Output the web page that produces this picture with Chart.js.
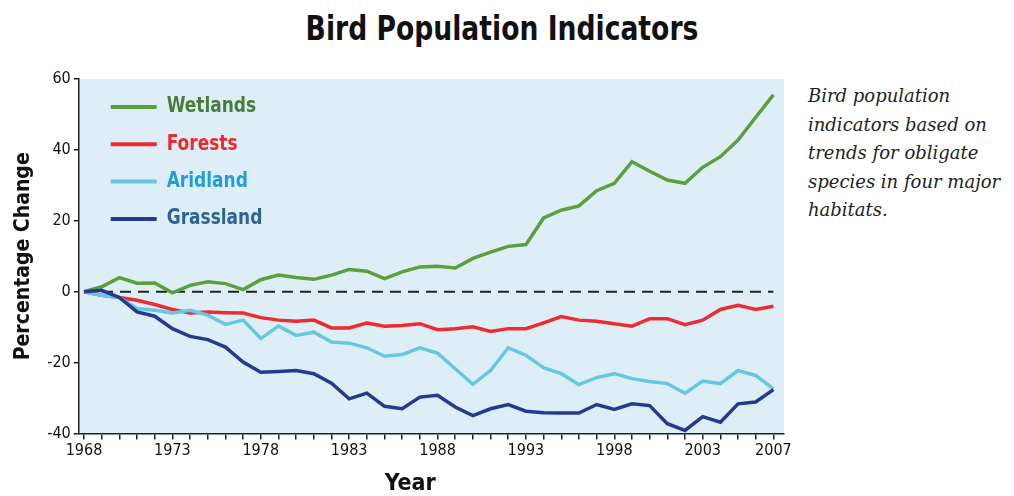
<!DOCTYPE html>
<html lang="en">
<head>
  <meta charset="UTF-8">
  <title>Bird Population Indicators</title>
  <script src="https://cdn.jsdelivr.net/npm/chart.js"></script>
  <style>
    body {
      margin: 0;
      width: 1014px;
      height: 496px;
      background: #fff;
      position: relative;
      overflow: hidden;
    }
    #title {
      position: absolute;
      left: 0;
      width: 1004px;
      top: 8px;
      text-align: center;
      font-family: 'Liberation Sans Narrow', 'DejaVu Sans Condensed', sans-serif;
      font-weight: bold;
      font-size: 34px;
      color: #111;
      transform: scaleX(0.87);
    }
    #wrap {
      position: absolute;
      left: 0;
      top: 0;
      width: 800px;
      height: 496px;
    }
    #note {
      position: absolute;
      left: 808px;
      top: 82px;
      width: 206px;
      font-family: 'DejaVu Serif', serif;
      font-style: italic;
      font-size: 18px;
      line-height: 28.5px;
      color: #222;
    }
  </style>
</head>
<body>
  <div id="title">Bird Population Indicators</div>
  <div id="wrap"><canvas id="birdChart"></canvas></div>
  <div id="note">Bird population indicators based on trends for obligate species in four major habitats.</div>
  <script>
    var years = [];
    for (var y = 1968; y <= 2007; y++) years.push(y);
    var labelYears = [1968, 1973, 1978, 1983, 1988, 1993, 1998, 2003, 2007];
    var yTicks = [-40, -20, 0, 20, 40, 60];

    var wetlands = [0, 1.4, 4, 2.4, 2.5, -0.3, 1.8, 2.8, 2.3, 0.6,
                    3.4, 4.7, 4, 3.5, 4.7, 6.3, 5.8, 3.7, 5.6, 7,
                    7.2, 6.7, 9.4, 11.2, 12.8, 13.3, 20.8, 23, 24.2, 28.5,
                    30.6, 36.7, 34, 31.5, 30.6, 35.1, 38.1, 42.8, 49.2, 55.5];
    var forests = [0, -1, -1.6, -2.4, -3.6, -5, -6, -5.7, -5.9, -6,
                   -7.3, -8, -8.3, -8, -10.2, -10.2, -8.8, -9.7, -9.5, -9,
                   -10.7, -10.4, -9.9, -11.2, -10.4, -10.4, -8.8, -7, -8, -8.3,
                   -9, -9.7, -7.6, -7.6, -9.3, -8, -5, -3.8, -5, -4.1];
    var aridland = [0, -1, -1.6, -4.7, -5.2, -6, -5.2, -6.6, -9.2, -8,
                    -13.2, -9.7, -12.3, -11.4, -14.2, -14.5, -15.8, -18.2, -17.7, -15.8,
                    -17.3, -21.7, -26.1, -22.2, -15.8, -17.9, -21.4, -23.1, -26.2, -24.2,
                    -23.1, -24.5, -25.3, -25.9, -28.6, -25.2, -25.9, -22.2, -23.6, -27.4];
    var grassland = [0, 0.4, -1.6, -5.7, -6.9, -10.4, -12.6, -13.5, -15.6, -19.8,
                     -22.7, -22.5, -22.2, -23.1, -25.8, -30.2, -28.6, -32.3, -33, -29.7,
                     -29.2, -32.5, -34.9, -33, -31.8, -33.7, -34.1, -34.2, -34.2, -31.8,
                     -33.2, -31.6, -32.1, -37.2, -39.1, -35.2, -36.8, -31.6, -31.1, -27.6];

    var seriesNames = ['Wetlands', 'Forests', 'Aridland', 'Grassland'];
    var seriesData = [wetlands, forests, aridland, grassland];
    var lineColors = ['#5f9e3d', '#ee2b30', '#66c8e0', '#27388f'];
    var textColors = ['#4a7b3c', '#ea2a30', '#1f9fd8', '#2c6496'];

    var narrow = "'Liberation Sans Narrow', 'DejaVu Sans Condensed', sans-serif";

    function toPoints(arr) {
      return arr.map(function (v, i) { return { x: years[i], y: v }; });
    }

    // plot background, dashed zero line, legend inside the plot, x title
    var decor = {
      id: 'decor',
      beforeDraw: function (chart) {
        var ctx = chart.ctx, a = chart.chartArea;
        ctx.save();
        ctx.fillStyle = '#deeef7';
        ctx.fillRect(a.left, a.top, a.right - a.left, a.bottom - a.top);
        ctx.restore();
      },
      beforeDatasetsDraw: function (chart) {
        var ctx = chart.ctx;
        var xs = chart.scales.x, ys = chart.scales.y;
        ctx.save();
        var y0 = ys.getPixelForValue(0);
        ctx.strokeStyle = '#222';
        ctx.lineWidth = 2;
        ctx.setLineDash([11, 7]);
        ctx.beginPath();
        ctx.moveTo(xs.getPixelForValue(years[0]), y0);
        ctx.lineTo(xs.getPixelForValue(years[years.length - 1]), y0);
        ctx.stroke();
        ctx.restore();
      },
      afterDatasetsDraw: function (chart) {
        var ctx = chart.ctx, a = chart.chartArea;
        ctx.save();
        ctx.textBaseline = 'middle';
        for (var i = 0; i < seriesNames.length; i++) {
          var yy = a.top + 28 + i * 37.3;
          ctx.strokeStyle = lineColors[i];
          ctx.lineWidth = 4;
          ctx.beginPath();
          ctx.moveTo(a.left + 32, yy);
          ctx.lineTo(a.left + 78, yy);
          ctx.stroke();
          ctx.save();
          ctx.translate(a.left + 88, yy);
          ctx.scale(0.9, 1);
          ctx.font = 'bold 21px ' + narrow;
          ctx.fillStyle = textColors[i];
          ctx.fillText(seriesNames[i], 0, 0);
          ctx.restore();
        }
        ctx.restore();
      },
      afterDraw: function (chart) {
        var ctx = chart.ctx, a = chart.chartArea;
        ctx.save();
        ctx.font = 'bold 23px ' + narrow;
        ctx.fillStyle = '#111';
        ctx.textAlign = 'center';
        ctx.textBaseline = 'middle';
        ctx.fillText('Year', a.left + (a.right - a.left) * 0.47, 484);
        ctx.restore();
      }
    };

    var ctx = document.getElementById('birdChart').getContext('2d');
    var birdChart = new Chart(ctx, {
      type: 'line',
      data: {
        datasets: seriesData.map(function (d, i) {
          return {
            label: seriesNames[i],
            data: toPoints(d),
            borderColor: lineColors[i],
            borderWidth: 3.5,
            pointRadius: 0,
            tension: 0,
            fill: false
          };
        }).reverse()
      },
      options: {
        responsive: true,
        maintainAspectRatio: false,
        animation: false,
        layout: { padding: { top: 79, left: 11, right: 16, bottom: 6 } },
        plugins: {
          legend: { display: false },
          tooltip: { enabled: false }
        },
        scales: {
          x: {
            type: 'linear',
            min: 1967.7,
            max: 2007.6,
            afterBuildTicks: function (scale) {
              scale.ticks = years.map(function (v) { return { value: v }; });
            },
            ticks: {
              autoSkip: false,
              maxRotation: 0,
              padding: 2,
              color: '#111',
              font: { family: narrow, size: 16 },
              callback: function (v) {
                return labelYears.indexOf(v) >= 0 ? String(v) : '';
              }
            },
            grid: { drawOnChartArea: false, drawTicks: true, tickLength: 6, color: '#222', lineWidth: 1.5 },
            border: { display: true, color: '#222', width: 1.5 },
            title: {
              display: true,
              text: 'Year',
              color: 'rgba(0,0,0,0)',
              font: { family: narrow, size: 21, weight: 'bold' },
              padding: { top: 2, bottom: 0 }
            }
          },
          y: {
            min: -40,
            max: 60,
            afterBuildTicks: function (scale) {
              scale.ticks = yTicks.map(function (v) { return { value: v }; });
            },
            ticks: {
              color: '#111',
              padding: 3,
              font: { family: narrow, size: 16 }
            },
            grid: { drawOnChartArea: false, drawTicks: true, tickLength: 5, color: '#222', lineWidth: 1.5 },
            border: { display: true, color: '#222', width: 1.5 },
            title: {
              display: true,
              text: 'Percentage Change',
              color: '#111',
              font: { family: narrow, size: 21, weight: 'bold' },
              padding: { top: 0, bottom: 8 }
            }
          }
        }
      },
      plugins: [decor]
    });
  </script>
</body>
</html>
